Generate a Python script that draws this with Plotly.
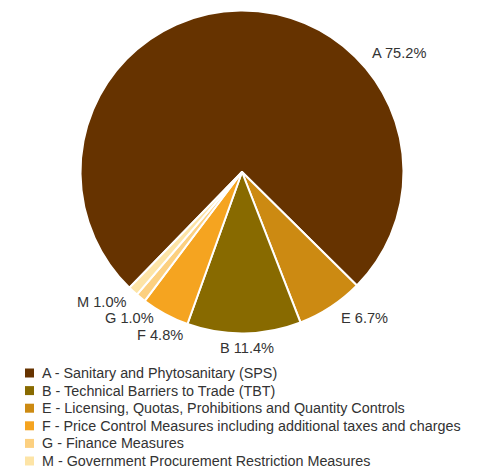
import plotly.graph_objects as go

# ---- data ----
codes = ["A", "E", "B", "F", "G", "M"]
values = [75.2, 6.7, 11.4, 4.8, 1.0, 1.0]
colors = ["#663300", "#CC8A12", "#886A00", "#F5A420", "#FCD080", "#FDE4A6"]
legend_codes = ["A", "B", "E", "F", "G", "M"]
legend_names = [
    "A - Sanitary and Phytosanitary (SPS)",
    "B - Technical Barriers to Trade (TBT)",
    "E - Licensing, Quotas, Prohibitions and Quantity Controls",
    "F - Price Control Measures including additional taxes and charges",
    "G - Finance Measures",
    "M - Government Procurement Restriction Measures",
]

W, H = 478, 470
FONT = "Liberation Sans, Arial, sans-serif"
TXT = "#333333"


def px(x):
    return x / W


def py(y):
    return 1 - y / H


color_of = dict(zip(codes, colors))

fig = go.Figure()
fig.add_trace(go.Pie(
    labels=codes,
    values=values,
    sort=False,
    direction="clockwise",
    rotation=224.2,
    marker=dict(colors=colors, line=dict(color="white", width=2)),
    textinfo="none",
    hoverinfo="label+percent",
    showlegend=False,
    domain=dict(x=[px(80.5), px(403.5)], y=[py(334.5), py(9.5)]),
))

# slice labels (positions in pixels, anchor)
label_pos = {
    "A": (370, 53, "left"),
    "E": (339, 318, "left"),
    "B": (218, 348, "left"),
    "F": (185, 335, "right"),
    "G": (156, 318, "right"),
    "M": (128, 302, "right"),
}
annotations = []
for c, v in zip(codes, values):
    x, y, anc = label_pos[c]
    annotations.append(dict(
        x=px(x), y=py(y), xref="paper", yref="paper",
        text=f"{c} {v:.1f}%", showarrow=False,
        xanchor=anc, yanchor="middle",
        font=dict(family=FONT, size=14.6, color=TXT),
    ))

# manual legend
shapes = []
y0, step = 373.0, 17.6
for i, (c, name) in enumerate(zip(legend_codes, legend_names)):
    yc = y0 + i * step
    shapes.append(dict(
        type="rect", xref="paper", yref="paper",
        x0=px(25), x1=px(34), y0=py(yc + 4.5), y1=py(yc - 4.5),
        fillcolor=color_of[c], line=dict(width=0),
    ))
    annotations.append(dict(
        x=px(40), y=py(yc), xref="paper", yref="paper",
        text=name, showarrow=False, xanchor="left", yanchor="middle",
        font=dict(family=FONT, size=14.35, color=TXT),
    ))

fig.update_layout(
    width=W, height=H,
    margin=dict(l=0, r=0, t=0, b=0),
    paper_bgcolor="white", plot_bgcolor="white",
    annotations=annotations, shapes=shapes,
    showlegend=False,
    font=dict(family=FONT),
)

fig.write_html(
    "out.html",
    config={"displayModeBar": False},
    post_script="document.body.style.margin='0';document.body.style.overflow='hidden';",
)
